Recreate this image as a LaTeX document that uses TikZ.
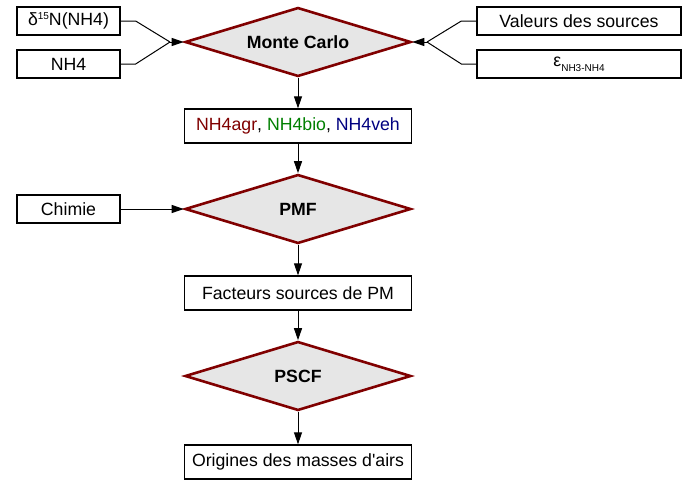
\documentclass[tikz,border=0pt]{standalone}
\usepackage{fontspec}
\setmainfont{Liberation Sans}
\usetikzlibrary{shapes.geometric,arrows.meta}
\definecolor{dred}{HTML}{800000}
\definecolor{dgreen}{HTML}{008000}
\definecolor{dblue}{HTML}{000080}
\definecolor{dfill}{HTML}{E6E6E6}
\begin{document}
\begin{tikzpicture}[x=1pt,y=-1pt,
  every node/.style={font=\fontsize{17.7}{21}\selectfont, inner sep=0pt},
  box/.style={draw=black, line width=1.3pt, fill=white, rectangle, minimum height=28pt},
  bigbox/.style={box, minimum width=227pt, minimum height=34pt},
  smallbox/.style={box, minimum width=103pt},
  widebox/.style={box, minimum width=204pt},
  decision/.style={diamond, aspect=3.3, draw=dred, line width=2.6pt, fill=dfill, minimum width=226pt, minimum height=69pt, font=\fontsize{17.7}{21}\selectfont\bfseries},
  arr/.style={-{Triangle[length=12pt,width=8pt]}, line width=1pt},
  link/.style={line width=1pt}]
\useasboundingbox (0,0) rectangle (693,488);

\node[decision] (mc) at (298,42) {Monte Carlo};
\node[smallbox] (d15) at (68.5,21) {δ\raisebox{6pt}{\fontsize{10}{10}\selectfont 15}N(NH4)};
\node[smallbox] (nh4) at (68.5,64) {NH4};
\node[widebox] (val) at (579,21) {Valeurs des sources};
\node[widebox] (eps) at (579,64) {ε\raisebox{-5pt}{\fontsize{10}{10}\selectfont NH3-NH4}};
\node[bigbox] (agr) at (298,126) {\textcolor{dred}{NH4agr}, \textcolor{dgreen}{NH4bio}, \textcolor{dblue}{NH4veh}};
\node[decision] (pmf) at (298,209) {PMF};
\node[smallbox] (chim) at (68.5,209) {Chimie};
\node[bigbox] (fact) at (298,293) {Facteurs sources de PM};
\node[decision] (pscf) at (298,376) {PSCF};
\node[bigbox] (orig) at (298,462) {Origines des masses d\textquotesingle airs};

\coordinate (jl) at (170,42);
\coordinate (jr) at (427,42);
\draw[link] (d15.east) -- ++(15,0) -- (jl);
\draw[link] (nh4.east) -- ++(15,0) -- (jl);
\draw[arr] (jl) -- (mc.west);
\draw[link] (val.west) -- ++(-15,0) -- (jr);
\draw[link] (eps.west) -- ++(-15,0) -- (jr);
\draw[arr] (jr) -- (mc.east);

\draw[arr] (mc.south) -- (agr.north);
\draw[arr] (agr.south) -- (pmf.north);
\draw[arr] (chim.east) -- (pmf.west);
\draw[arr] (pmf.south) -- (fact.north);
\draw[arr] (fact.south) -- (pscf.north);
\draw[arr] (pscf.south) -- (orig.north);
\end{tikzpicture}
\end{document}
